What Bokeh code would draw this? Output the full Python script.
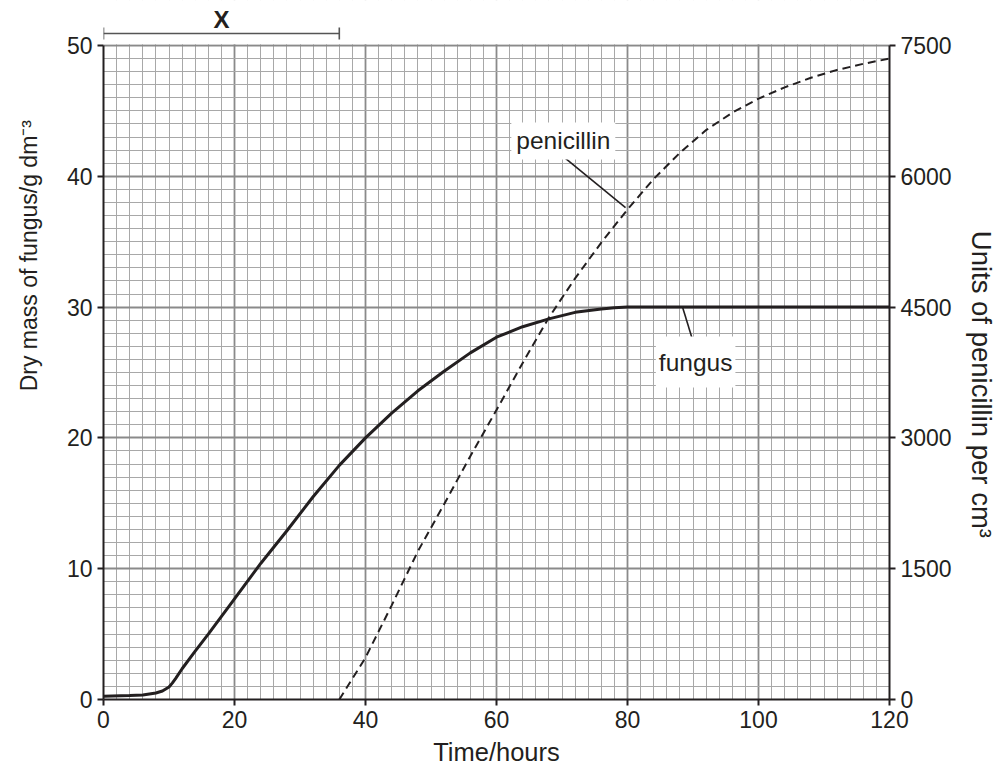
from bokeh.plotting import figure
from bokeh.models import LinearAxis, Range1d, SingleIntervalTicker, Label, BoxAnnotation
from bokeh.core.properties import value
from bokeh.embed import file_html
from bokeh.resources import INLINE

# ---- data ----
hours_fungus = [0, 4, 6, 8, 9, 10, 10.5, 11, 12, 14, 16, 20, 24, 28, 32, 36, 40, 44, 48,
                52, 56, 60, 64, 68, 72, 76, 78, 80, 100, 120]
fungus_mass = [0.25, 0.3, 0.35, 0.5, 0.65, 0.95, 1.25, 1.6, 2.35, 3.7, 5.0, 7.7, 10.4, 12.9,
               15.5, 17.9, 20.0, 21.9, 23.6, 25.1, 26.5, 27.7, 28.5, 29.1, 29.6,
               29.85, 29.95, 30.0, 30.0, 30.0]

hours_pen = [36, 40, 44, 48, 52, 56, 60, 64, 68, 72, 76, 80, 84, 88, 92, 96,
             100, 104, 108, 112, 116, 120]
penicillin_units = [0, 480, 1080, 1700, 2240, 2790, 3320, 3860, 4380, 4830,
                    5240, 5620, 5970, 6270, 6530, 6730, 6890, 7020, 7130, 7220,
                    7290, 7350]

phase_x = [0, 36]          # the bracket "X" spans 0-36 hours
phase_label = "X"
x_ticks_interval = 20
y_ticks_interval = 10
pen_ticks_interval = 1500

INK = "#231f20"
FONT = "Liberation Sans"
MAJOR = "#8a8a8a"
MINOR = "#a8a8a8"

X_MAX = 120
Y_MAX = 50
PEN_MAX = 7500
GRID_H = 654            # pixel height of the gridded area
TOP_SPACE = 45          # pixels above the grid for the bracket
FRAME_H = GRID_H + TOP_SPACE
px = Y_MAX / GRID_H     # data units per pixel
Y_TOP = Y_MAX + TOP_SPACE * px
PEN_TOP = Y_TOP * PEN_MAX / Y_MAX

p = figure(frame_width=786, frame_height=FRAME_H,
           x_range=Range1d(0, X_MAX), y_range=Range1d(0, Y_TOP),
           output_backend="svg", toolbar_location=None,
           min_border_left=103, min_border_right=114,
           min_border_top=0, min_border_bottom=73,
           background_fill_color="white", border_fill_color="white")
p.extra_y_ranges = {"pen": Range1d(0, PEN_TOP)}
p.outline_line_color = None

xt = SingleIntervalTicker(interval=x_ticks_interval, num_minor_ticks=10)
yt = SingleIntervalTicker(interval=y_ticks_interval, num_minor_ticks=10)
p.xaxis.ticker = xt
left_axis = p.left[0]
left_axis.ticker = yt
left_axis.bounds = (0, Y_MAX)
p.xgrid.ticker = xt
p.ygrid.ticker = yt
p.ygrid.bounds = (0, Y_MAX)

for g in (p.xgrid, p.ygrid):
    g.grid_line_color = MAJOR
    g.grid_line_width = 1.8
    g.minor_grid_line_color = MINOR
    g.minor_grid_line_width = 1

# blank out the vertical grid lines above the top of the grid
mask = BoxAnnotation(bottom=Y_MAX + 1.2 * px, top=Y_TOP + 20 * px,
                     fill_color="white", fill_alpha=1,
                     line_color=None, level="underlay")
p.add_layout(mask)
edge_mask = BoxAnnotation(bottom=Y_TOP - 5 * px, top=Y_TOP + 20 * px,
                          fill_color="white", fill_alpha=1, line_color=None)
p.add_layout(edge_mask)

pen_axis = LinearAxis(y_range_name="pen", bounds=(0, PEN_MAX),
                      ticker=SingleIntervalTicker(interval=pen_ticks_interval),
                      axis_label="\u2003\u2003\u2002Units of penicillin per cm³")
p.add_layout(pen_axis, "right")

p.xaxis.axis_label = "Time/hours"
left_axis.axis_label = "\u2003" * 8 + "\u2009" + "Dry mass of fungus/g dm⁻³"

for ax in p.axis:
    ax.axis_line_color = INK
    ax.axis_line_width = 2
    ax.major_tick_line_color = INK
    ax.major_tick_line_width = 2
    ax.major_tick_out = 6
    ax.major_tick_in = 0
    ax.minor_tick_line_color = None
    ax.major_label_text_font = FONT
    ax.major_label_text_font_size = "23px"
    ax.major_label_text_color = INK
    ax.axis_label_text_font = FONT
    ax.axis_label_text_font_style = "normal"
    ax.axis_label_text_color = INK
    ax.major_label_standoff = 5

p.xaxis.axis_label_text_font_size = "25.5px"
p.xaxis.axis_label_standoff = 7
left_axis.axis_label_text_font_size = "23px"
left_axis.axis_label_standoff = 22
pen_axis.axis_label_text_font_size = "27.5px"
pen_axis.axis_label_standoff = 11

# ---- "X" bracket above the grid ----
br_y = Y_MAX + 12 * px
tick_half = 6 * px
p.segment(x0=[phase_x[0], phase_x[0], phase_x[1]],
          y0=[br_y, br_y - tick_half, br_y - tick_half],
          x1=[phase_x[1], phase_x[0], phase_x[1]],
          y1=[br_y, br_y + tick_half, br_y + tick_half],
          line_color="#555555", line_width=1.6)
p.text(x=[(phase_x[0] + phase_x[1]) / 2], y=[Y_MAX + 26.5 * px], text=[phase_label],
       text_align="center", text_baseline="middle",
       text_font=value(FONT), text_font_size="24px", text_font_style="bold",
       text_color=INK)

# curves
p.line(hours_fungus, fungus_mass, line_color=INK, line_width=3)
p.line(hours_pen, penicillin_units, y_range_name="pen", line_color=INK,
       line_width=2, line_dash="8 5")

# leader lines
p.segment(x0=[70.2, 88.4], y0=[41.5, 30.0], x1=[79.7, 90.3], y1=[37.6, 26.9],
          line_color=INK, line_width=1.6)

lab_pen = Label(x=70.2, y=42.7, text="penicillin", text_align="center",
                text_baseline="middle", text_font=FONT, text_font_size="24.5px",
                text_color=INK, background_fill_color="white", padding=5)
lab_fun = Label(x=90.4, y=25.8, text="fungus", text_align="center",
                text_baseline="middle", text_font=FONT, text_font_size="24.5px",
                text_color=INK, background_fill_color="white", padding=(3, 12))
p.add_layout(lab_pen)
p.add_layout(lab_fun)

open("out.html", "w").write(file_html(p, INLINE))
